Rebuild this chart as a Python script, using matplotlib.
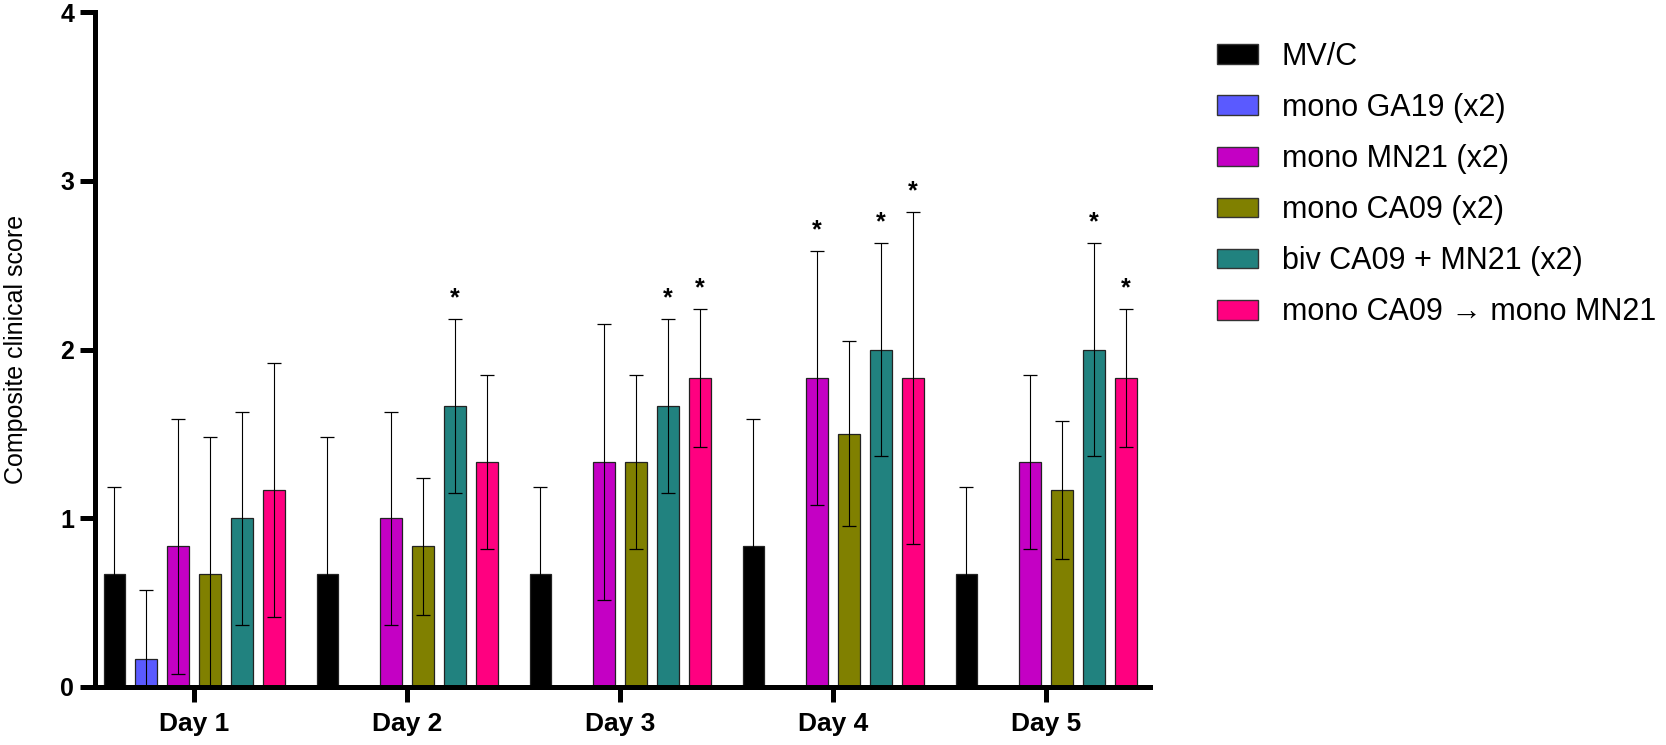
import numpy as np
import matplotlib.pyplot as plt
from matplotlib.patches import Patch

plt.rcParams['font.family'] = ['Liberation Sans', 'DejaVu Sans']

# Data (mean and SD per day)
days = ['Day 1', 'Day 2', 'Day 3', 'Day 4', 'Day 5']
groups = ['MV/C', 'mono GA19 (x2)', 'mono MN21 (x2)', 'mono CA09 (x2)',
          'biv CA09 + MN21 (x2)', 'mono CA09 \u2192 mono MN21']
colors = ['#000000', '#5A5AFF', '#C400C4', '#808000', '#21827F', '#FF0080']

mvc_mean = [0.667, 0.667, 0.667, 0.833, 0.667]
mvc_sd = [0.516, 0.816, 0.516, 0.753, 0.516]
ga19_mean = [0.167, 0, 0, 0, 0]
ga19_sd = [0.408, 0, 0, 0, 0]
mn21_mean = [0.833, 1.0, 1.333, 1.833, 1.333]
mn21_sd = [0.753, 0.632, 0.816, 0.753, 0.516]
ca09_mean = [0.667, 0.833, 1.333, 1.5, 1.167]
ca09_sd = [0.816, 0.408, 0.516, 0.548, 0.408]
biv_mean = [1.0, 1.667, 1.667, 2.0, 2.0]
biv_sd = [0.632, 0.516, 0.516, 0.632, 0.632]
prime_mean = [1.167, 1.333, 1.833, 1.833, 1.833]
prime_sd = [0.753, 0.516, 0.408, 0.983, 0.408]

means = [mvc_mean, ga19_mean, mn21_mean, ca09_mean, biv_mean, prime_mean]
sds = [mvc_sd, ga19_sd, mn21_sd, ca09_sd, biv_sd, prime_sd]

# significance stars: (day index, group index)
star_days = [1, 2, 2, 3, 3, 3, 4, 4]
star_groups = [4, 4, 5, 2, 4, 5, 4, 5]

fig = plt.figure(figsize=(16.66, 7.45), dpi=100)
ax = fig.add_axes([95 / 1666, 58 / 745, (1150 - 95) / 1666, (687 - 12) / 745])

x = np.arange(len(days))
pitch = 0.15
width = 0.1
for i in range(len(groups)):
    xs = x + (i - 2.5) * pitch
    m = np.array(means[i])
    s = np.array(sds[i])
    ax.bar(xs, m, width=width, color=colors[i], edgecolor='#222222',
           linewidth=0.9, zorder=2)
    keep = s > 0
    ax.errorbar(xs[keep], m[keep], yerr=s[keep], fmt='none', ecolor='black',
                elinewidth=0.8, capsize=5, capthick=0.9, zorder=3)

for d, g in zip(star_days, star_groups):
    xs = x[d] + (g - 2.5) * pitch
    top = means[g][d] + sds[g][d]
    ax.text(xs, top + 0.05, '*', ha='center', va='bottom', fontsize=18,
            fontweight='bold')

ax.set_xlim(-0.465, 4.488)
ax.set_ylim(0, 4)
ax.set_yticks([0, 1, 2, 3, 4])
ax.set_xticks(x)
ax.set_xticklabels(days, fontsize=19, fontweight='bold')
for lab in ax.get_yticklabels():
    lab.set_fontsize(18)
    lab.set_fontweight('bold')
ax.tick_params(axis='both', length=11, width=3.6, direction='out')
ax.tick_params(axis='x', pad=7)
ax.tick_params(axis='y', pad=4)
for side in ['top', 'right']:
    ax.spines[side].set_visible(False)
for side in ['left', 'bottom']:
    ax.spines[side].set_linewidth(3.6)
ax.set_ylabel('Composite clinical score', fontsize=18, labelpad=23)

handles = [Patch(facecolor=c, edgecolor='#333333', linewidth=1) for c in colors]
fig.legend(handles, groups, loc='upper left', bbox_to_anchor=(1217 / 1666, 1 - 42 / 745),
           frameon=False, fontsize=22, borderpad=0, borderaxespad=0,
           handlelength=1.34, handleheight=0.62, handletextpad=0.78,
           labelspacing=0.69)

fig.savefig('out.png', dpi=100)
